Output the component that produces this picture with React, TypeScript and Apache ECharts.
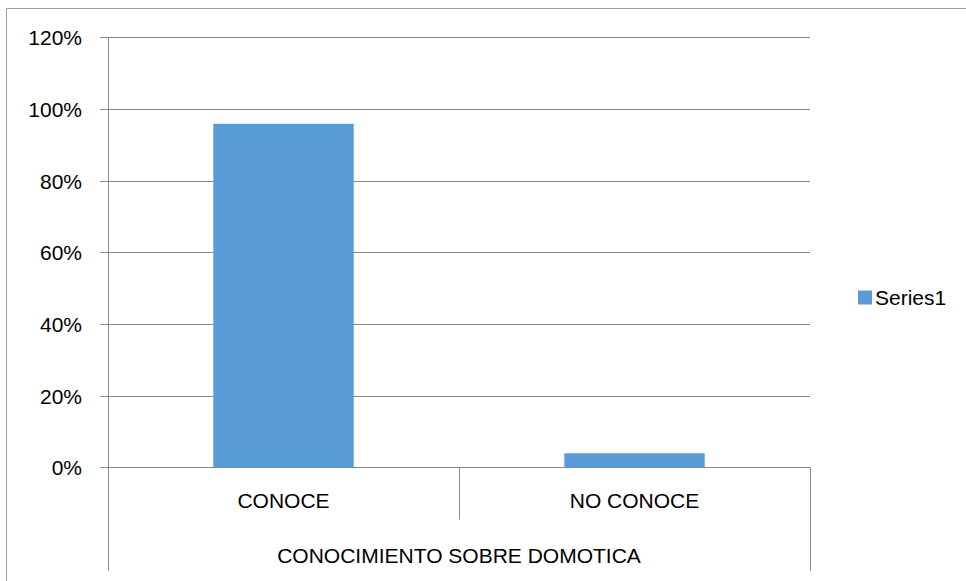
import React, { useEffect, useRef } from "react";
import * as echarts from "echarts";

const categories = ["CONOCE", "NO CONOCE"];
const groupLabels = ["CONOCIMIENTO SOBRE DOMOTICA"];
const seriesName = "Series1";
const values = [0.96, 0.04];
const yTicks = { min: 0, max: 1.2, interval: 0.2 };

const FONT = "'Liberation Sans', Arial, sans-serif";
const GRID_COLOR = "#898989";

export default function App() {
  const ref = useRef<HTMLDivElement>(null);
  useEffect(() => {
    if (!ref.current) return;
    const chart = echarts.init(ref.current, null, { renderer: "svg" });
    chart.setOption({
      animation: false,
      backgroundColor: "#ffffff",
      textStyle: { fontFamily: FONT },
      graphic: [
        {
          type: "rect",
          shape: { x: 6.5, y: 8.5, width: 1200, height: 1000 },
          style: { fill: "none", stroke: "#a0a0a0", lineWidth: 1 },
          silent: true,
        },
      ],
      grid: { left: 108, right: 156, top: 37.7, bottom: 113.3, containLabel: false },
      legend: {
        show: true,
        orient: "vertical",
        left: 853,
        top: 282,
        icon: "rect",
        itemWidth: 14,
        itemHeight: 14,
        itemGap: 5,
        textStyle: { fontFamily: FONT, fontSize: 21, color: "#000", padding: [0, 0, 0, -2] },
        data: [seriesName],
      },
      xAxis: [
        {
          type: "category",
          data: categories,
          position: "bottom",
          axisLine: { show: true, lineStyle: { color: GRID_COLOR, width: 1 } },
          axisTick: { show: true, alignWithLabel: false, length: 52, lineStyle: { color: GRID_COLOR } },
          axisLabel: { fontFamily: FONT, fontSize: 21, color: "#000", margin: 22 },
          splitLine: { show: false },
        },
        {
          type: "category",
          data: groupLabels,
          position: "bottom",
          offset: 0,
          axisLine: { show: false },
          axisTick: { show: true, alignWithLabel: false, length: 103, lineStyle: { color: GRID_COLOR } },
          axisLabel: { fontFamily: FONT, fontSize: 21, color: "#000", margin: 77 },
          splitLine: { show: false },
        },
      ],
      yAxis: {
        type: "value",
        min: yTicks.min,
        max: yTicks.max,
        interval: yTicks.interval,
        axisLine: { show: true, lineStyle: { color: GRID_COLOR } },
        axisTick: { show: true, inside: false, length: 8, lineStyle: { color: GRID_COLOR } },
        axisLabel: {
          fontFamily: FONT,
          fontSize: 21,
          color: "#000",
          margin: 26,
          formatter: (v: number) => `${Math.round(v * 100)}%`,
        },
        splitLine: { show: true, lineStyle: { color: GRID_COLOR, width: 1 } },
      },
      series: [
        {
          name: seriesName,
          type: "bar",
          xAxisIndex: 0,
          data: values,
          barCategoryGap: "60%",
          itemStyle: { color: "#5b9bd5" },
        },
      ],
    });
    return () => chart.dispose();
  }, []);
  return (
    <div
      ref={ref}
      style={{ position: "fixed", left: 0, top: 0, width: 966, height: 581, background: "#fff" }}
    />
  );
}
